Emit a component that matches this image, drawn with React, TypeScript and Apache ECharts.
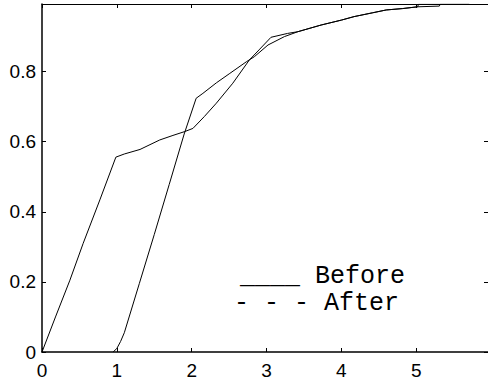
import React, { useEffect, useRef } from "react";
import * as echarts from "echarts";

const beforeX = [0, 0.18, 0.373, 0.55, 0.773, 0.987, 1.1, 1.31, 1.573, 1.75, 1.907, 2.017, 2.17, 2.33, 2.55, 2.77, 2.9, 3.06, 3.28, 3.42, 3.73, 4.0, 4.17, 4.42, 4.6, 4.82, 5.02, 5.31, 5.32, 5.71];
const beforeY = [0, 0.1, 0.205, 0.31, 0.434, 0.556, 0.565, 0.578, 0.605, 0.618, 0.629, 0.638, 0.672, 0.71, 0.767, 0.833, 0.862, 0.898, 0.909, 0.914, 0.933, 0.947, 0.957, 0.968, 0.976, 0.98, 0.985, 0.987, 0.992, 0.992];

const afterX = [0.95, 1.0, 1.05, 1.1, 1.3, 1.5, 1.7, 1.9, 2.06, 2.15, 2.33, 2.51, 2.73, 2.84, 3.02, 3.24, 3.42, 3.73, 4.0, 4.17, 4.42, 4.6, 4.82, 5.02, 5.03, 5.71];
const afterY = [0, 0.01, 0.03, 0.055, 0.195, 0.335, 0.478, 0.622, 0.724, 0.738, 0.768, 0.795, 0.828, 0.843, 0.876, 0.9, 0.914, 0.933, 0.947, 0.957, 0.968, 0.976, 0.98, 0.985, 0.992, 0.992];

const legendLines = ["____ Before", "- - - After"];

const X_MAX = 5.96;
const Y_MAX = 0.993;

export default function App() {
  const ref = useRef<HTMLDivElement>(null);
  useEffect(() => {
    const chart = echarts.init(ref.current!, undefined, { renderer: "svg" });
    const labelFont = { color: "#000", fontFamily: "Liberation Sans", fontSize: 19 };
    const mainLine = { show: true, onZero: false, lineStyle: { color: "#000", width: 1.5 } };
    const sideLine = { show: true, onZero: false, lineStyle: { color: "#000", width: 1 } };
    const tickIn = { show: true, inside: true, length: 4, lineStyle: { color: "#000", width: 1 } };
    chart.setOption({
      animation: false,
      grid: { left: 42, top: 4, right: -1, bottom: 29, containLabel: false },
      xAxis: [
        {
          type: "value", min: 0, max: X_MAX, interval: 1, position: "bottom",
          axisLine: mainLine, axisTick: tickIn, splitLine: { show: false },
          axisLabel: { ...labelFont, margin: 9, showMaxLabel: false },
        },
        {
          type: "value", min: 0, max: X_MAX, interval: 1, position: "top",
          axisLine: sideLine, axisTick: tickIn, splitLine: { show: false },
          axisLabel: { show: false },
        },
      ],
      yAxis: [
        {
          type: "value", min: 0, max: Y_MAX, interval: 0.2, position: "left",
          axisLine: mainLine, axisTick: tickIn, splitLine: { show: false },
          axisLabel: { ...labelFont, margin: 6, showMaxLabel: false },
        },
        {
          type: "value", min: 0, max: Y_MAX, interval: 0.2, position: "right",
          axisLine: sideLine, axisTick: tickIn, splitLine: { show: false },
          axisLabel: { show: false },
        },
      ],
      series: [
        {
          name: "Before", type: "line", showSymbol: false,
          data: beforeX.map((x, i) => [x, beforeY[i]]),
          lineStyle: { color: "#000", width: 1 }, itemStyle: { color: "#000" },
        },
        {
          name: "After", type: "line", showSymbol: false,
          data: afterX.map((x, i) => [x, afterY[i]]),
          lineStyle: { color: "#000", width: 1 }, itemStyle: { color: "#000" },
        },
      ],
      graphic: [
        {
          type: "text", left: 240, top: 264,
          style: { text: legendLines[0], fontFamily: "Liberation Mono", fontSize: 25, fill: "#000" },
        },
        {
          type: "text", left: 234, top: 291,
          style: { text: legendLines[1], fontFamily: "Liberation Mono", fontSize: 25, fill: "#000" },
        },
      ],
    });
    return () => chart.dispose();
  }, []);
  return (
    <div
      ref={ref}
      style={{ position: "fixed", left: 0, top: 0, width: 488, height: 381, background: "#fff" }}
    />
  );
}
